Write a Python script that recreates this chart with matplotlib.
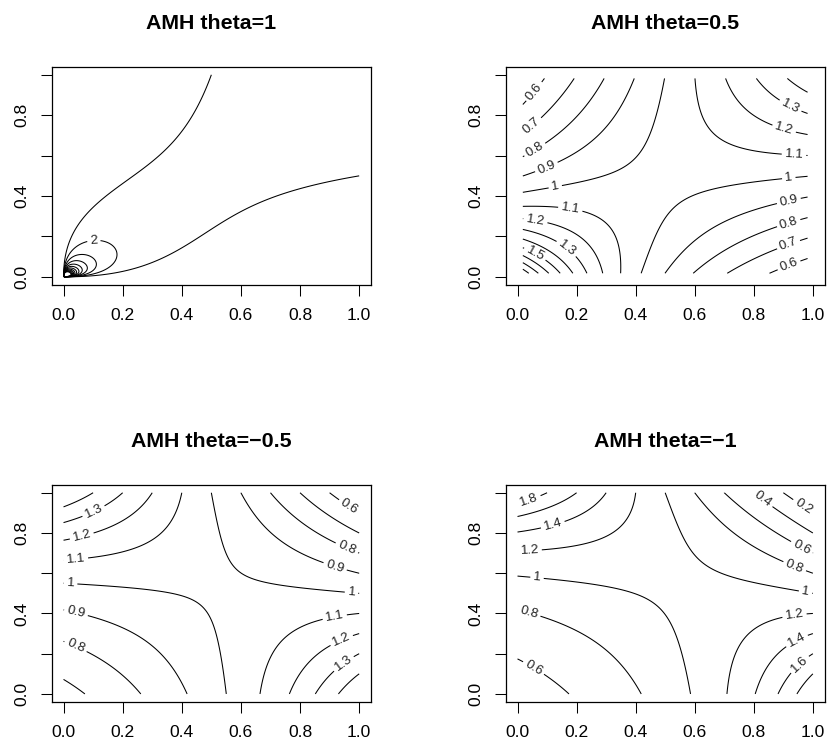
import numpy as np
import matplotlib
matplotlib.use("Agg")
import matplotlib.pyplot as plt

plt.rcParams["font.family"] = ["Liberation Sans", "DejaVu Sans"]

# copula parameters, one panel each
thetas = [1, 0.5, -0.5, -1]
titles = ["AMH theta=1", "AMH theta=0.5", "AMH theta=\u22120.5", "AMH theta=\u22121"]

# contour levels per panel
levels_1 = [1, 2, 3, 4, 5, 6, 7, 8, 9, 10, 11, 12]
levels_05 = [0.6, 0.7, 0.8, 0.9, 1.0, 1.1, 1.2, 1.3, 1.4, 1.5, 1.6, 1.7, 1.8]
levels_m05 = [0.6, 0.7, 0.8, 0.9, 1.0, 1.1, 1.2, 1.3, 1.4]
levels_m1 = [0.2, 0.4, 0.6, 0.8, 1.0, 1.2, 1.4, 1.6, 1.8]
all_levels = [levels_1, levels_05, levels_m05, levels_m1]

# grid edge (the theta=0.5 panel stops a bit short of the borders)
grid_eps = [0.0, 0.018, 0.0, 0.0]

# where the contour labels sit (approx)
labels_1 = [(0.103, 0.171)]
labels_05 = [(0.049, 0.926), (0.049, 0.747), (0.056, 0.636), (0.099, 0.539),
             (0.128, 0.445), (0.178, 0.329), (0.060, 0.274), (0.162, 0.133),
             (0.054, 0.100), (0.924, 0.846), (0.902, 0.730), (0.936, 0.601),
             (0.919, 0.481), (0.919, 0.373), (0.919, 0.262), (0.919, 0.154),
             (0.919, 0.058)]
labels_m05 = [(0.100, 0.913), (0.061, 0.788), (0.042, 0.664), (0.024, 0.548),
              (0.042, 0.403), (0.038, 0.227), (0.963, 0.924), (0.957, 0.722),
              (0.918, 0.631), (0.974, 0.503), (0.918, 0.377), (0.940, 0.269),
              (0.946, 0.154)]
labels_m1 = [(0.037, 0.974), (0.120, 0.838), (0.041, 0.710), (0.066, 0.576),
             (0.037, 0.398), (0.049, 0.116), (0.828, 0.963), (0.964, 0.924),
             (0.960, 0.722), (0.936, 0.626), (0.975, 0.506), (0.938, 0.387),
             (0.947, 0.261), (0.956, 0.146)]
all_labels = [labels_1, labels_05, labels_m05, labels_m1]

ticks = [0.0, 0.2, 0.4, 0.6, 0.8, 1.0]
xtick_labels = ["0.0", "0.2", "0.4", "0.6", "0.8", "1.0"]
ytick_labels = ["0.0", "", "0.4", "", "0.8", ""]


def amh_density(u, v, theta):
    num = 1 + theta * ((1 + u) * (1 + v) - 3) + theta ** 2 * (1 - u) * (1 - v)
    den = (1 - theta * (1 - u) * (1 - v)) ** 3
    with np.errstate(divide="ignore", invalid="ignore"):
        return num / den


W, H = 828, 745
fig = plt.figure(figsize=(W / 100, H / 100), dpi=100)

# axes boxes in pixels: left, top, right, bottom
boxes = [(51.7, 66.7, 371, 285), (505.7, 66.7, 824.7, 285),
         (51.7, 484.7, 371, 702), (505.7, 484.7, 824.7, 702)]


def fmt(v):
    return f"{round(v, 2):g}"


for i, theta in enumerate(thetas):
    l, t, r, b = boxes[i]
    ax = fig.add_axes([l / W, 1 - b / H, (r - l) / W, (b - t) / H])
    ax.set_xlim(-0.04, 1.04)
    ax.set_ylim(-0.04, 1.04)

    eps = grid_eps[i]
    g = np.linspace(eps, 1 - eps, 301)
    U, V = np.meshgrid(g, g)
    Z = amh_density(U, V, theta)
    Z = np.ma.masked_invalid(Z)

    cs = ax.contour(U, V, Z, levels=all_levels[i], colors="black", linewidths=0.75)
    ax.clabel(cs, manual=all_labels[i], inline=True, inline_spacing=3,
              fontsize=9.5, fmt=fmt, colors="#222222")

    ax.set_xticks(ticks)
    ax.set_xticklabels(xtick_labels)
    ax.set_yticks(ticks)
    ax.set_yticklabels(ytick_labels, rotation=90, va="center")
    ax.tick_params(direction="out", length=7.8, width=0.75, labelsize=12.6)
    ax.tick_params(axis="x", pad=9)
    ax.tick_params(axis="y", pad=8)
    for s in ax.spines.values():
        s.set_linewidth(0.9)

    ax.annotate(titles[i], xy=(0.5, 1), xycoords="axes fraction",
                xytext=(0, 31), textcoords="offset points",
                ha="center", va="center", fontsize=15.4, fontweight="bold")

fig.savefig("out.png", dpi=100)
